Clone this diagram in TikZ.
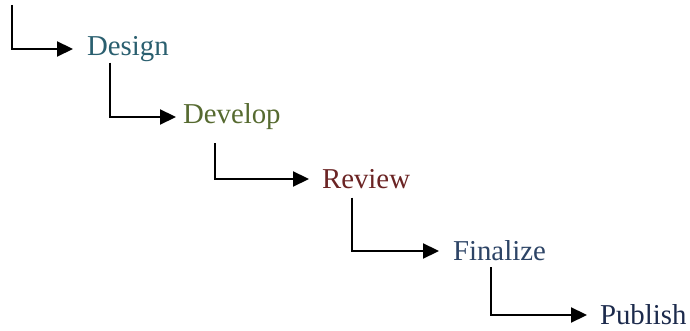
\documentclass[tikz,border=0pt]{standalone}
\usepackage{fontspec}
\setmainfont{Liberation Serif}
\usetikzlibrary{arrows.meta}
\definecolor{stepA}{HTML}{2A5F6F}
\definecolor{stepB}{HTML}{566A30}
\definecolor{stepC}{HTML}{6B2424}
\definecolor{stepD}{HTML}{2D4466}
\definecolor{stepE}{HTML}{1C2A4C}
\begin{document}
\begin{tikzpicture}[x=1pt, y=1pt, >={Triangle[length=8pt,width=7.5pt]},
  lbl/.style={anchor=west, font=\fontsize{14.4}{17}\selectfont},
  link/.style={->, line width=1.1pt}]
\useasboundingbox (0,0) rectangle (345,-165.5);
\coordinate (top) at (6,-2.5);
\node[lbl, text=stepA] (design) at (40,-24.5) {Design};
\node[lbl, text=stepB] (develop) at (88,-58.5) {Develop};
\node[lbl, text=stepC] (review) at (157.5,-89.5) {Review};
\node[lbl, text=stepD] (finalize) at (223,-125.5) {Finalize};
\node[lbl, text=stepE] (publish) at (296.5,-157.5) {Publish};
% steps
\draw[link, shorten >=3.5pt] (top) |- (design.west);
\draw[link] ([xshift=15pt, yshift=3pt]design.south west) |- (develop.west);
\draw[link, shorten >=3pt] ([xshift=19.5pt, yshift=-3pt]develop.south west) |- (review.west);
\draw[link, shorten >=3.5pt] ([xshift=18.5pt, yshift=-1pt]review.south west) |- (finalize.west);
\draw[link, shorten >=3pt] ([xshift=22.5pt, yshift=0.5pt]finalize.south west) |- (publish.west);
\end{tikzpicture}
\end{document}
